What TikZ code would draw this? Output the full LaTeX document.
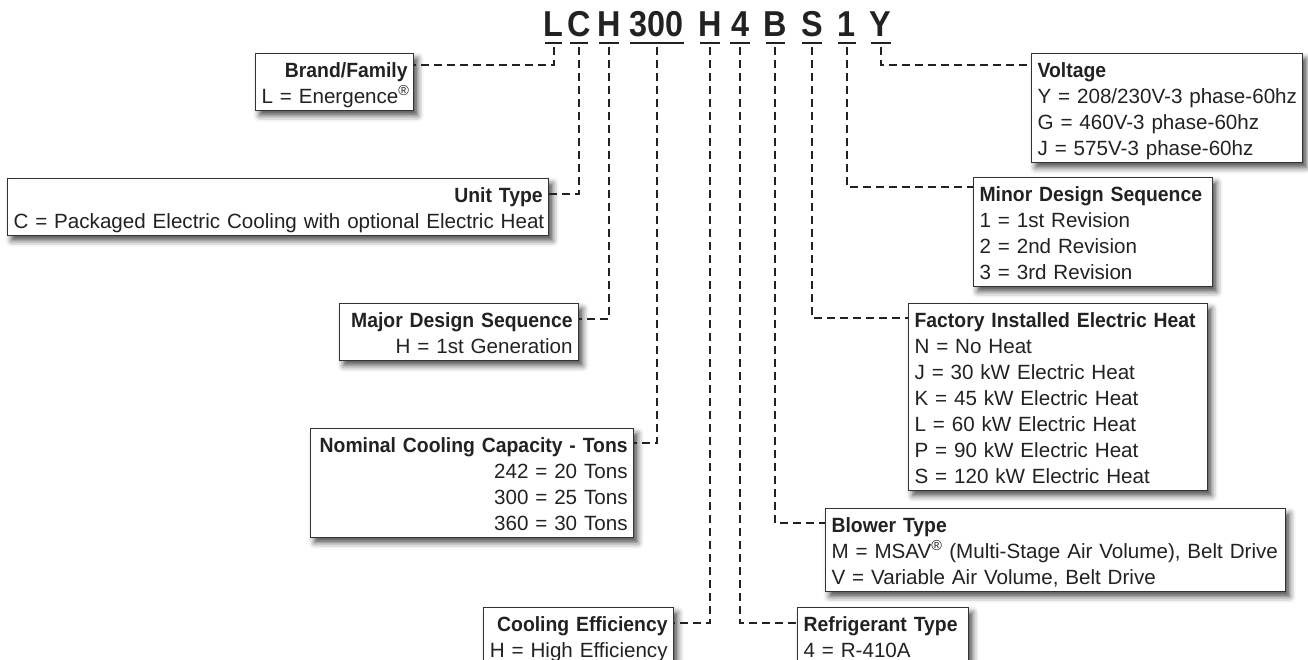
\documentclass[tikz,border=0pt]{standalone}
\usepackage{fontspec}
\setmainfont{Liberation Sans}[BoldFeatures={FakeStretch=0.94}]
\newfontfamily\hdrfam{Liberation Sans}[BoldFeatures={FakeStretch=0.9}]
\usetikzlibrary{shadows.blur}
\definecolor{ink}{HTML}{222222}
\definecolor{frame}{HTML}{333333}
\newcommand\Ts{\rule{0pt}{23.5pt}}
\newcommand\Bs{\rule[-7.5pt]{0pt}{7.5pt}}
\newcommand\Tt[1]{\Ts\mbox{\bfseries #1}}
\newcommand\Ln[1]{\mbox{#1}}
\newcommand\bodyfont{\fontsize{20.6}{26}\selectfont\lineskiplimit=-100pt\relax}
\newcommand\hdrfont{\hdrfam\fontsize{36}{36}\selectfont\bfseries}
\tikzset{
  box/.style={draw=frame, line width=1.2pt, fill=white, text=ink, inner xsep=6pt, inner ysep=0pt,
    anchor=north west, font=\bodyfont,
    blur shadow={shadow xshift=4pt, shadow yshift=-5pt, shadow blur radius=6pt, shadow opacity=70}},
  lbox/.style={box, align=left},
  rbox/.style={box, align=right},
  hdr/.style={font=\hdrfont, text=ink, inner sep=0pt, anchor=base},
  conn/.style={draw=ink, line width=2pt, dash pattern=on 8pt off 5pt},
  uline/.style={draw=ink, line width=2.5pt}
}
\begin{document}
\begin{tikzpicture}[x=1pt,y=-1pt]
\useasboundingbox (0,0) rectangle (1308,660);
% header code
\node[hdr] (hL) at (553.5,37) {L};
\node[hdr] (hC) at (579,37) {C};
\node[hdr] (hH) at (609,37) {H};
\node[hdr] (h300) at (656.5,37) {300};
\node[hdr] (hHb) at (710,37) {H};
\node[hdr] (h4) at (740,37) {4};
\node[hdr] (hB) at (775,37) {B};
\node[hdr] (hS) at (812,37) {S};
\node[hdr] (h1) at (846.5,37) {1};
\node[hdr] (hY) at (880.5,37) {Y};
\foreach \n/\w in {hL/8.5,hC/9,hH/10,h300/27,hHb/10,h4/10,hB/9.5,hS/10,h1/9,hY/10}
  \draw[uline] ([xshift=-\w pt,yshift=-6pt]\n.base) -- ([xshift=\w pt,yshift=-6pt]\n.base);
% boxes
\node[rbox, text width=146pt] (brand) at (255,53)
  {\Tt{Brand/Family}\\\Ln{L = Energence\textsuperscript{®}}\Bs};
\node[rbox, text width=529pt] (unit) at (7,178)
  {\Tt{Unit Type}\\\Ln{C = Packaged Electric Cooling with optional Electric Heat}\Bs};
\node[rbox, text width=227pt] (major) at (339,303)
  {\Tt{Major Design Sequence}\\\Ln{H = 1st Generation}\Bs};
\node[rbox, text width=311pt] (nominal) at (310,428)
  {\Tt{Nominal Cooling Capacity - Tons}\\\Ln{242 = 20 Tons}\\\Ln{300 = 25 Tons}\\\Ln{360 = 30 Tons}\Bs};
\node[rbox, text width=178pt] (cooleff) at (483,607)
  {\Tt{Cooling Efficiency}\\\Ln{H = High Efficiency}\Bs};
\node[lbox, text width=159pt] (refr) at (797,607)
  {\Tt{Refrigerant Type}\\\Ln{4 = R-410A}\Bs};
\node[lbox, text width=448pt] (blower) at (825,508)
  {\Tt{Blower Type}\\\Ln{M = MSAV\textsuperscript{®} (Multi-Stage Air Volume), Belt Drive}\\\Ln{V = Variable Air Volume, Belt Drive}\Bs};
\node[lbox, text width=287pt] (factory) at (908,303)
  {\Tt{Factory Installed Electric Heat}\\\Ln{N = No Heat}\\\Ln{J = 30 kW Electric Heat}\\\Ln{K = 45 kW Electric Heat}\\\Ln{L = 60 kW Electric Heat}\\\Ln{P = 90 kW Electric Heat}\\\Ln{S = 120 kW Electric Heat}\Bs};
\node[lbox, text width=227pt] (minor) at (973,177)
  {\Tt{Minor Design Sequence}\\\Ln{1 = 1st Revision}\\\Ln{2 = 2nd Revision}\\\Ln{3 = 3rd Revision}\Bs};
\node[lbox, text width=259pt] (voltage) at (1031,53)
  {\Tt{Voltage}\\\Ln{Y = 208/230V-3 phase-60hz}\\\Ln{G = 460V-3 phase-60hz}\\\Ln{J = 575V-3 phase-60hz}\Bs};
% connectors
\draw[conn] ([yshift=-10pt]hL.base) |- ([yshift=-12pt]brand.north east);
\draw[conn] ([yshift=-10pt]hC.base) |- ([yshift=-16pt]unit.north east);
\draw[conn] ([yshift=-10pt]hH.base) |- ([yshift=-16pt]major.north east);
\draw[conn] ([yshift=-10pt]h300.base) |- ([yshift=-15pt]nominal.north east);
\draw[conn] ([yshift=-10pt]hHb.base) |- ([yshift=-16pt]cooleff.north east);
\draw[conn] ([yshift=-10pt]h4.base) |- ([yshift=-16pt]refr.north west);
\draw[conn] ([yshift=-10pt]hB.base) |- ([yshift=-15pt]blower.north west);
\draw[conn] ([yshift=-10pt]hS.base) |- ([yshift=-15pt]factory.north west);
\draw[conn] ([yshift=-10pt]h1.base) |- ([yshift=-10pt]minor.north west);
\draw[conn] ([yshift=-10pt]hY.base) |- ([yshift=-12pt]voltage.north west);
\end{tikzpicture}
\end{document}
